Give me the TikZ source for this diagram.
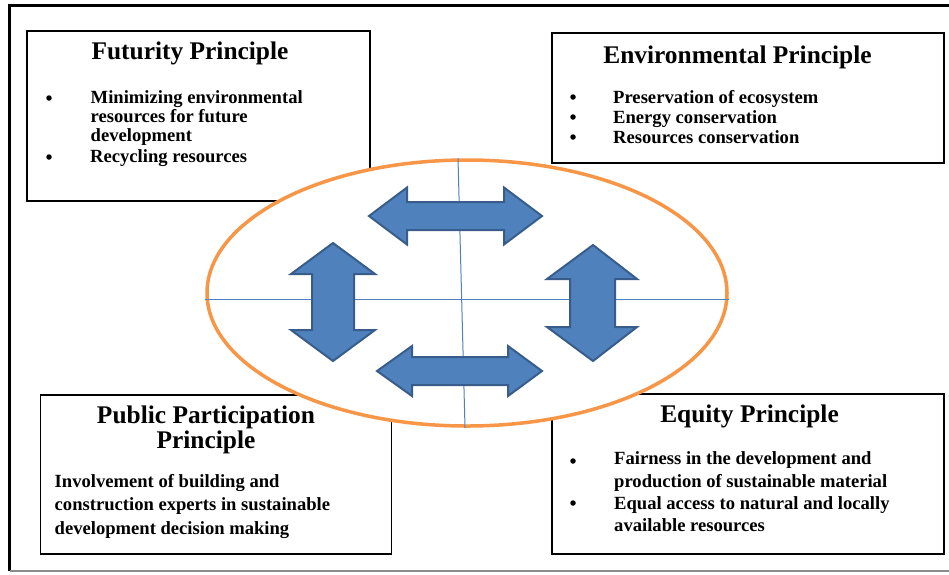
\documentclass[tikz,border=0pt]{standalone}
\usepackage{fontspec}
\setmainfont{Liberation Serif}
\usetikzlibrary{positioning,shapes.geometric}
\definecolor{hubline}{HTML}{F79646}
\definecolor{axisblue}{HTML}{4F81BD}
\definecolor{arrowfill}{HTML}{4F81BD}
\definecolor{arrowedge}{HTML}{385D8A}
\newcommand{\prinhead}{\fontsize{25.4}{21.5}\selectfont\bfseries}
\newcommand{\prinbody}[1]{\fontsize{18.6}{#1}\selectfont\bfseries}

\begin{document}
\begin{tikzpicture}[x=1pt, y=-1pt,
    panel/.style={rectangle, draw=black, line width=1.3pt, fill=white, inner sep=0pt},
    heading/.style={font=\prinhead, align=center, anchor=base, inner sep=0pt},
    item/.style={font={\prinbody{#1}}, align=left, anchor=base west, inner sep=0pt},
    dot/.style={circle, fill=black, inner sep=0pt, minimum size=5.5pt},
    twoway/.style={fill=arrowfill, draw=arrowedge, line width=2pt, line join=miter}
  ]
  \useasboundingbox (0,0) rectangle (949,574);

  % outer frame
  \draw[line width=3pt] (949,5) -- (9.5,5) -- (9.5,571);
  \draw[line width=2pt, black!45] (9.5,571) -- (949,571);

  % the four principle panels
  \node[panel, minimum width=343pt, minimum height=170pt] (futbox) at (198.5,116) {};
  \node[panel, minimum width=392pt, minimum height=130pt] (envbox) at (748,98) {};
  \node[panel, minimum width=351pt, minimum height=159pt] (pubbox) at (216,474.5) {};
  \node[panel, minimum width=392pt, minimum height=160pt] (eqbox) at (748,474) {};

  % futurity (multi-line nodes sit on the baseline of their last line)
  \node[heading] (futtitle) at (190,59) {Futurity Principle};
  \node[dot] (futdot1) at (49,98) {};
  \node[dot] (futdot2) at (49,157) {};
  \node[item=19pt] (futitem1) at (90.5,141)
        {Minimizing environmental\\resources for future\\development};
  \node[item=19pt] (futitem2) at (90,162) {Recycling resources};

  % environmental
  \node[heading] (envtitle) at (737.5,63) {Environmental Principle};
  \node[dot] (envdot1) at (573,97) {};
  \node[dot] (envdot2) at (573,117) {};
  \node[dot] (envdot3) at (573,137) {};
  \node[item=20pt] (envitems) at (613,143)
        {Preservation of ecosystem\\Energy conservation\\Resources conservation};

  % public participation
  \node[heading] (pubtitle) at (206,448) {Public Participation\\Principle};
  \node[item=23.5pt] (pubitems) at (54.5,534)
        {Involvement of building and\\construction experts in sustainable\\development decision making};

  % equity
  \node[heading] (eqtitle) at (749.5,422) {Equity Principle};
  \node[dot] (eqdot1) at (573,461) {};
  \node[dot] (eqdot2) at (573,503) {};
  \node[item=23pt] (eqitem1) at (614,487)
        {Fairness in the development and\\production of sustainable material};
  \node[item=22pt] (eqitem2) at (614,531)
        {Equal access to natural and locally\\available resources};

  % central ellipse with its cross
  \node[ellipse, draw=hubline, line width=3.5pt, fill=white, inner sep=0pt,
        minimum width=520pt, minimum height=266pt] (hub) at (467,293) {};
  \draw[axisblue, line width=1pt] ([yshift=-6pt]hub.west) -- ([yshift=-6pt]hub.east);
  \draw[axisblue, line width=1pt] ([xshift=-9pt]hub.north) -- ([xshift=-2pt]hub.south);

  % double arrows
  \draw[twoway] (369,216) -- (407,187.5) -- (407,202) -- (504,202) -- (504,187.5)
        -- (542,216) -- (504,244.5) -- (504,230) -- (407,230) -- (407,244.5) -- cycle;
  \draw[twoway] (377,371) -- (412,346) -- (412,357) -- (508,357) -- (508,346)
        -- (542,371) -- (508,396) -- (508,385) -- (412,385) -- (412,396) -- cycle;
  \draw[twoway] (333,243) -- (375,274) -- (354,274) -- (354,330) -- (375,330)
        -- (333,361) -- (291,330) -- (312,330) -- (312,274) -- (291,274) -- cycle;
  \draw[twoway] (593,245) -- (637,279) -- (615,279) -- (615,327) -- (637,327)
        -- (593,361) -- (547,327) -- (570,327) -- (570,279) -- (547,279) -- cycle;
\end{tikzpicture}
\end{document}
